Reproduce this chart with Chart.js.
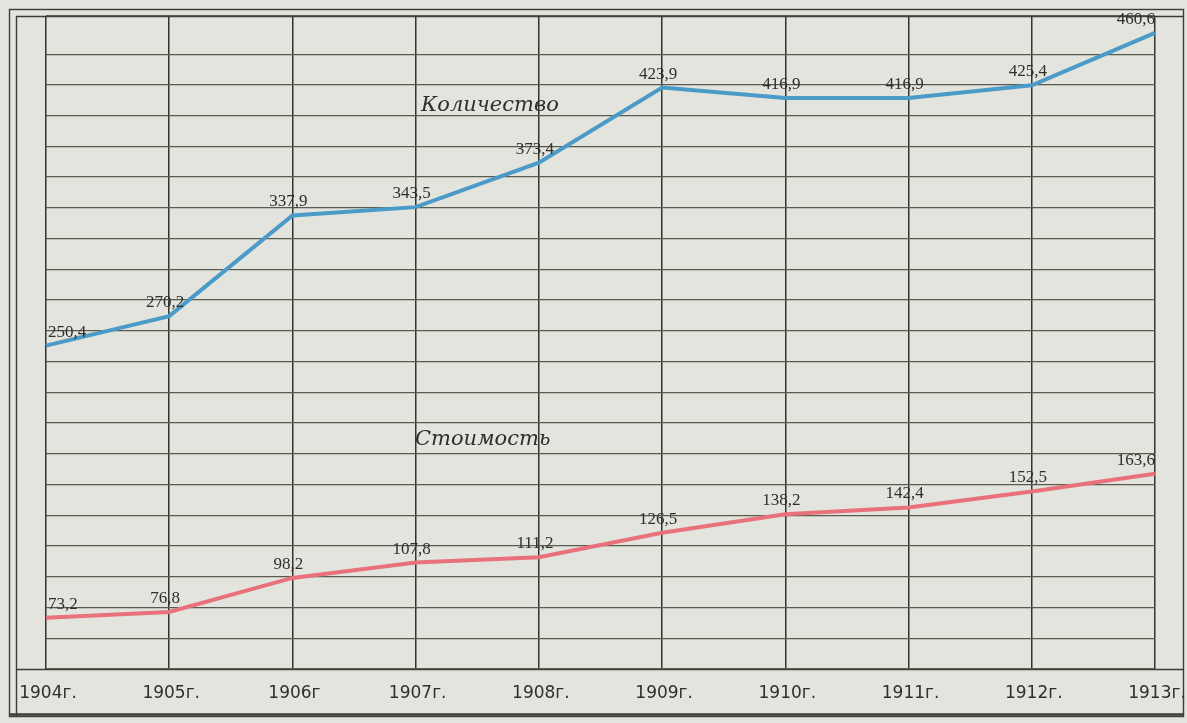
<!DOCTYPE html>
<html>
<head>
<meta charset="utf-8">
<script src="https://cdn.jsdelivr.net/npm/chart.js@4.4.1/dist/chart.umd.min.js"></script>
<style>
	html, body { margin: 0; padding: 0; background: #e2e4dd; }
	#wrap { width: 1187px; height: 723px; }
</style>
</head>
<body>
<div id="wrap"><canvas id="chart" width="1187" height="723"></canvas></div>
<script>
'use strict';

var YEARS = ['1904г.', '1905г.', '1906г', '1907г.', '1908г.', '1909г.', '1910г.', '1911г.', '1912г.', '1913г.'];
var KOLICHESTVO = [250.4, 270.2, 337.9, 343.5, 373.4, 423.9, 416.9, 416.9, 425.4, 460.6];
var STOIMOST = [73.2, 76.8, 98.2, 107.8, 111.2, 126.5, 138.2, 142.4, 152.5, 163.6];

var PAPER = '#e2e4dd';
var INK = '#2f2f2b';
var GRID = '#5a5a4e';

function fmt(v) {
	return v.toFixed(1).replace('.', ',');
}

// paper and the hand-ruled double frame
var framePlugin = {
	id: 'frame',
	beforeDraw: function(chart) {
		var ctx = chart.ctx;
		var area = chart.chartArea;
		ctx.save();
		ctx.fillStyle = PAPER;
		ctx.fillRect(0, 0, chart.width, chart.height);
		ctx.strokeStyle = '#3c3c36';
		ctx.lineWidth = 1.4;
		ctx.strokeRect(9.5, 9.5, 1174, 707);
		ctx.beginPath();
		ctx.moveTo(16, 16.5);
		ctx.lineTo(1183, 16.5);
		ctx.moveTo(16.5, 16);
		ctx.lineTo(16.5, 716);
		ctx.moveTo(16, area.bottom + 0.5);
		ctx.lineTo(1183, area.bottom + 0.5);
		ctx.stroke();
		ctx.lineWidth = 2.5;
		ctx.beginPath();
		ctx.moveTo(10, 714.5);
		ctx.lineTo(1183, 714.5);
		ctx.stroke();
		ctx.restore();
	}
};

// value labels written next to every point, plus the two series names
var labelPlugin = {
	id: 'valueLabels',
	afterDatasetsDraw: function(chart) {
		var ctx = chart.ctx;
		ctx.save();
		ctx.fillStyle = INK;
		ctx.font = '17px "Liberation Serif"';
		ctx.textBaseline = 'bottom';
		chart.data.datasets.forEach(function(ds, di) {
			var meta = chart.getDatasetMeta(di);
			meta.data.forEach(function(pt, i) {
				var last = meta.data.length - 1;
				ctx.textAlign = i === 0 ? 'left' : (i === last ? 'right' : 'center');
				var x = i === 0 ? pt.x + 2 : (i === last ? pt.x : pt.x - 4);
				ctx.fillText(fmt(ds.data[i]), x, pt.y - 5);
			});
		});
		ctx.font = 'italic 21px "DejaVu Serif"';
		ctx.textAlign = 'left';
		ctx.textBaseline = 'alphabetic';
		ctx.fillText('Количество', 421, 111);
		ctx.fillText('Стоимость', 415, 445);
		ctx.restore();
	}
};

new Chart(document.getElementById('chart'), {
	type: 'line',
	data: {
		labels: YEARS,
		datasets: [{
			label: 'Количество',
			data: KOLICHESTVO,
			yAxisID: 'yQ',
			borderColor: '#4b9bc8',
			borderWidth: 4,
			pointRadius: 0,
			tension: 0
		}, {
			label: 'Стоимость',
			data: STOIMOST,
			yAxisID: 'yS',
			borderColor: '#e8717c',
			borderWidth: 4,
			pointRadius: 0,
			tension: 0
		}]
	},
	options: {
		responsive: false,
		animation: false,
		devicePixelRatio: 1,
		layout: {
			padding: { left: 46, right: 32, top: 16, bottom: 18 }
		},
		plugins: {
			legend: { display: false },
			tooltip: { enabled: false }
		},
		scales: {
			x: {
				type: 'category',
				offset: false,
				grid: { color: '#333330', lineWidth: 1.5, drawTicks: false },
				border: { display: false },
				ticks: {
					color: INK,
					font: { family: 'DejaVu Sans', size: 17 },
					padding: 14,
					labelOffset: 2,
					maxRotation: 0,
					autoSkip: false
				},
				afterFit: function(scale) {
					scale.height = 36;
					scale.paddingLeft = 0;
					scale.paddingRight = 0;
				}
			},
			yGrid: {
				type: 'linear',
				position: 'left',
				min: 0,
				max: 21.24,
				grid: { color: GRID, lineWidth: 1.2, drawTicks: false },
				border: { display: false },
				ticks: { display: false, stepSize: 1 }
			},
			yQ: { type: 'linear', display: false, min: 33, max: 472 },
			yS: { type: 'linear', display: false, min: 41, max: 451 }
		}
	},
	plugins: [framePlugin, labelPlugin]
});
</script>
</body>
</html>
